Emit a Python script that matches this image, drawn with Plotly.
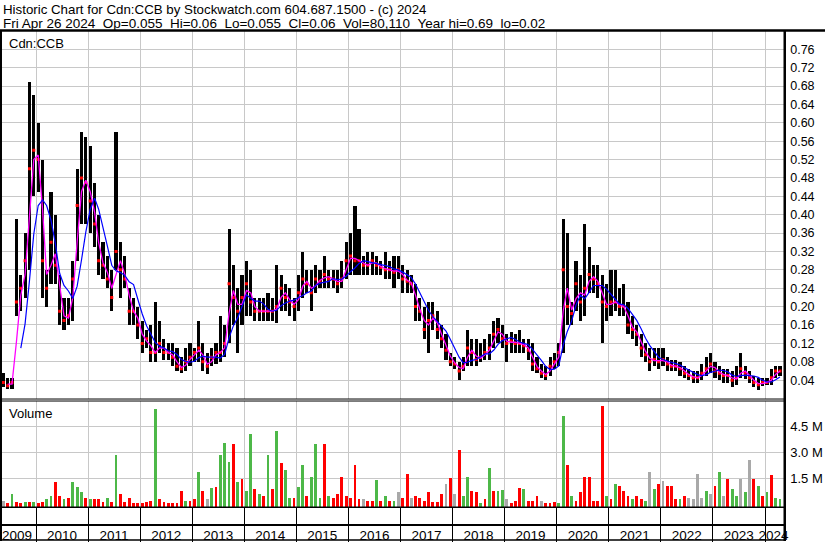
import plotly.graph_objects as go
import pandas as pd

W, H = 830, 543

# ---------------- data (monthly, May 2009 .. Apr 2024) ----------------
start_month = "2009-05-01"
n_months = 180

high = [
    0.055, 0.045, 0.045, 0.39, 0.27, 0.36, 0.69, 0.66,
    0.60, 0.52, 0.28, 0.45, 0.40, 0.27, 0.22, 0.22, 0.30, 0.50, 0.58, 0.57,
    0.55, 0.47, 0.40, 0.34, 0.31, 0.28, 0.58, 0.34, 0.31, 0.24, 0.22, 0.20,
    0.17, 0.15, 0.16, 0.21, 0.17, 0.13, 0.12, 0.12, 0.11, 0.09, 0.11, 0.12,
    0.11, 0.17, 0.12, 0.10, 0.11, 0.12, 0.18, 0.16, 0.37, 0.29, 0.24, 0.27,
    0.30, 0.28, 0.22, 0.22, 0.22, 0.23, 0.22, 0.29, 0.27, 0.25, 0.24, 0.22,
    0.27, 0.32, 0.28, 0.28, 0.29, 0.28, 0.31, 0.28, 0.28, 0.28, 0.30, 0.34,
    0.36, 0.42, 0.37, 0.31, 0.32, 0.32, 0.31, 0.30, 0.32, 0.30, 0.31, 0.31,
    0.29, 0.28, 0.27, 0.25, 0.22, 0.20, 0.21, 0.21, 0.19, 0.16, 0.14, 0.10,
    0.09, 0.08, 0.09, 0.15, 0.13, 0.13, 0.12, 0.13, 0.14, 0.17, 0.175, 0.16,
    0.14, 0.145, 0.14, 0.15, 0.13, 0.13, 0.12, 0.09, 0.075, 0.07, 0.09, 0.10,
    0.12, 0.39, 0.36, 0.21, 0.30, 0.27, 0.38, 0.33, 0.29, 0.29, 0.27, 0.25,
    0.28, 0.28, 0.24, 0.25, 0.21, 0.18, 0.16, 0.14, 0.12, 0.11, 0.11, 0.11,
    0.11, 0.09, 0.085, 0.085, 0.08, 0.07, 0.065, 0.06, 0.06, 0.075, 0.09, 0.10,
    0.08, 0.07, 0.065, 0.065, 0.06, 0.07, 0.10, 0.07, 0.06, 0.05, 0.045, 0.045,
    0.045, 0.065, 0.07, 0.07,
]

low = [
    0.025, 0.022, 0.022, 0.18, 0.19, 0.22, 0.28, 0.44,
    0.45, 0.22, 0.20, 0.25, 0.25, 0.16, 0.15, 0.16, 0.17, 0.30, 0.38, 0.38,
    0.36, 0.33, 0.27, 0.26, 0.24, 0.19, 0.28, 0.22, 0.24, 0.16, 0.16, 0.13,
    0.10, 0.11, 0.08, 0.08, 0.10, 0.085, 0.085, 0.07, 0.06, 0.055, 0.06, 0.07,
    0.08, 0.08, 0.06, 0.053, 0.07, 0.075, 0.08, 0.09, 0.12, 0.16, 0.10, 0.16,
    0.18, 0.18, 0.17, 0.17, 0.17, 0.17, 0.17, 0.165, 0.19, 0.19, 0.18, 0.17,
    0.19, 0.22, 0.23, 0.19, 0.23, 0.24, 0.24, 0.24, 0.24, 0.23, 0.24, 0.26,
    0.27, 0.27, 0.27, 0.27, 0.27, 0.27, 0.27, 0.27, 0.26, 0.26, 0.24, 0.26,
    0.23, 0.23, 0.23, 0.17, 0.17, 0.13, 0.10, 0.15, 0.13, 0.11, 0.085, 0.07,
    0.065, 0.04, 0.06, 0.07, 0.07, 0.07, 0.08, 0.085, 0.085, 0.11, 0.12, 0.11,
    0.08, 0.10, 0.10, 0.10, 0.10, 0.085, 0.06, 0.055, 0.045, 0.04, 0.05, 0.065,
    0.07, 0.10, 0.16, 0.16, 0.19, 0.17, 0.18, 0.23, 0.23, 0.22, 0.12, 0.17,
    0.18, 0.19, 0.18, 0.18, 0.14, 0.13, 0.115, 0.09, 0.08, 0.06, 0.07, 0.065,
    0.07, 0.06, 0.06, 0.06, 0.05, 0.045, 0.04, 0.035, 0.035, 0.04, 0.05, 0.055,
    0.045, 0.04, 0.035, 0.035, 0.025, 0.03, 0.045, 0.043, 0.035, 0.025, 0.018, 0.028,
    0.03, 0.03, 0.045, 0.05,
]

close = [
    0.035, 0.028, 0.035, 0.21, 0.24, 0.30, 0.50, 0.54,
    0.52, 0.30, 0.24, 0.34, 0.29, 0.19, 0.17, 0.18, 0.26, 0.42, 0.48, 0.47,
    0.43, 0.38, 0.30, 0.29, 0.26, 0.22, 0.32, 0.28, 0.26, 0.19, 0.19, 0.16,
    0.12, 0.13, 0.10, 0.10, 0.12, 0.10, 0.10, 0.09, 0.07, 0.065, 0.08, 0.09,
    0.10, 0.11, 0.08, 0.07, 0.09, 0.10, 0.10, 0.12, 0.25, 0.22, 0.19, 0.22,
    0.25, 0.21, 0.19, 0.19, 0.19, 0.19, 0.19, 0.20, 0.24, 0.22, 0.21, 0.20,
    0.23, 0.26, 0.25, 0.23, 0.26, 0.255, 0.27, 0.26, 0.26, 0.25, 0.26, 0.30,
    0.31, 0.30, 0.30, 0.29, 0.29, 0.30, 0.29, 0.285, 0.28, 0.28, 0.275, 0.28,
    0.26, 0.255, 0.25, 0.20, 0.19, 0.15, 0.17, 0.18, 0.15, 0.13, 0.105, 0.08,
    0.075, 0.06, 0.07, 0.11, 0.10, 0.085, 0.09, 0.10, 0.11, 0.14, 0.15, 0.13,
    0.12, 0.125, 0.12, 0.12, 0.115, 0.105, 0.075, 0.065, 0.055, 0.05, 0.07, 0.08,
    0.10, 0.28, 0.20, 0.185, 0.25, 0.21, 0.24, 0.27, 0.26, 0.25, 0.21, 0.20,
    0.21, 0.21, 0.20, 0.20, 0.16, 0.15, 0.14, 0.11, 0.095, 0.08, 0.085, 0.08,
    0.085, 0.075, 0.07, 0.07, 0.065, 0.055, 0.05, 0.045, 0.045, 0.055, 0.065, 0.075,
    0.06, 0.055, 0.05, 0.05, 0.04, 0.045, 0.065, 0.055, 0.045, 0.035, 0.03, 0.035,
    0.035, 0.045, 0.06, 0.06,
]

# peak daily volume within each month, in millions of shares
volume_m = [
    0.2, 0.1, 0.6, 0.15, 0.1, 0.15, 0.15, 0.12,
    0.1, 0.12, 0.3, 0.5, 1.3, 0.5, 0.3, 0.4, 1.3, 1.0, 0.7, 0.4,
    0.3, 0.3, 0.3, 0.15, 0.35, 0.15, 2.86, 0.6, 0.15, 0.35, 0.1, 0.1,
    0.1, 0.15, 0.2, 5.6, 0.3, 0.15, 0.1, 0.1, 0.1, 0.8, 0.2, 0.2,
    0.3, 1.9, 0.8, 0.3, 0.95, 1.0, 2.86, 3.6, 2.5, 3.5, 1.3, 1.5,
    0.8, 4.1, 0.9, 0.6, 0.5, 2.9, 0.9, 4.3, 2.4, 2.0, 0.4, 0.35,
    1.0, 2.3, 0.5, 1.6, 3.5, 0.4, 3.5, 0.5, 0.4, 0.6, 1.6, 0.5,
    0.4, 2.3, 0.3, 0.3, 0.2, 0.2, 1.4, 0.2, 0.5, 0.2, 0.2, 0.7,
    0.4, 1.8, 0.4, 0.5, 0.4, 0.2, 0.7, 0.15, 0.15, 0.6, 1.2, 1.55,
    0.6, 3.2, 0.5, 1.6, 0.8, 0.7, 0.1, 0.3, 2.1, 0.8, 0.8, 0.85,
    0.3, 0.1, 0.2, 0.95, 0.9, 0.2, 0.2, 0.5, 0.2, 0.1, 0.1, 0.15,
    0.1, 5.15, 2.3, 0.5, 0.2, 0.7, 1.6, 1.6, 0.2, 0.2, 5.77, 0.5,
    0.3, 1.2, 1.1, 0.8, 0.5, 0.3, 0.5, 0.3, 0.2, 1.9, 0.9, 1.2,
    1.35, 1.1, 1.05, 0.3, 0.3, 0.5, 0.4, 0.3, 1.76, 0.4, 0.8, 0.6,
    1.1, 1.9, 0.5, 1.5, 0.9, 0.5, 1.5, 0.7, 2.57, 1.5, 1.1, 0.5,
    0.7, 1.7, 0.4, 0.3,
]

# g = up day (green), r = down day (red), k = unchanged (grey)
volume_dir = (
    "krgrrgrg"
    "rrggrrgrgggr"
    "grrrgrgrrrrr"
    "rrrgrrrrrrgr"
    "rgrkgrgggrgr"
    "ggrgrgrgrggr"
    "ggrgggrgrrrr"
    "rrrkrrgrgrgk"
    "rrkrrrrrrrkr"
    "krggrrgrgrgg"
    "krrrgrrrkrrr"
    "ggrgrrrrrrrg"
    "rgrrrgrrgkgr"
    "krrrgrkkkkgk"
    "rgkrggkgkrgr"
    "grgg"
)

year_labels = ["2009", "2010", "2011", "2012", "2013", "2014", "2015", "2016",
               "2017", "2018", "2019", "2020", "2021", "2022", "2023", "2024"]
price_ticks = [0.04, 0.08, 0.12, 0.16, 0.20, 0.24, 0.28, 0.32, 0.36, 0.40,
               0.44, 0.48, 0.52, 0.56, 0.60, 0.64, 0.68, 0.72, 0.76]
volume_ticks = [1.5, 3.0, 4.5]

# ---------------- derived ----------------
months = pd.date_range(start_month, periods=n_months, freq="MS")
mid = months + pd.Timedelta(days=14)
close_s = pd.Series(close)
ma_fast = close_s.rolling(2).mean()
ma_slow = close_s.rolling(5).mean()
span = [h - l for h, l in zip(high, low)]
VBASE = 0.19
vol_h = [(v + VBASE) * 1e6 for v in volume_m]
cmap = {"g": "#4db848", "r": "#ff0000", "k": "#a9a9a9"}
vol_colors = [cmap[c] for c in volume_dir]

day_ms = 86400000
x_range = ["2009-05-06", "2024-05-15"]
year_bounds = [f"{y}-01-01" for y in range(2010, 2025)]
label_pos = ["2009-08-20"] + [f"{y}-07-01" for y in range(2010, 2024)] + ["2024-03-01"]


def px(X):
    return X / W


def py(Y):
    return (H - Y) / H


FONT = "Liberation Sans, Arial, sans-serif"
GRID = "#c8c8c8"

fig = go.Figure()

fig.add_trace(go.Bar(x=mid, y=span, base=low, width=22 * day_ms,
                     marker=dict(color="black", line=dict(width=0)),
                     xaxis="x", yaxis="y", showlegend=False))
fig.add_trace(go.Scatter(x=mid, y=close, mode="markers",
                         marker=dict(symbol="square", size=3, color="#ff0000"),
                         xaxis="x", yaxis="y", showlegend=False))
fig.add_trace(go.Scatter(x=mid, y=ma_fast, mode="lines",
                         line=dict(color="#ff00ff", width=1.3),
                         xaxis="x", yaxis="y", showlegend=False))
fig.add_trace(go.Scatter(x=mid, y=ma_slow, mode="lines",
                         line=dict(color="#0000ff", width=1.2),
                         xaxis="x", yaxis="y", showlegend=False))
fig.add_trace(go.Bar(x=mid, y=vol_h, base=-VBASE * 1e6, width=20 * day_ms,
                     marker=dict(color=vol_colors, line=dict(width=0)),
                     xaxis="x2", yaxis="y2", showlegend=False))

xdom = [px(2), px(789)]
common_x = dict(type="date", range=x_range, domain=xdom, showline=False,
                zeroline=False, showgrid=False, fixedrange=True)

fig.update_layout(
    width=W, height=H, margin=dict(l=0, r=0, t=0, b=0),
    paper_bgcolor="white", plot_bgcolor="white",
    barmode="overlay", bargap=0,
    font=dict(family=FONT, color="black", size=12),
    xaxis=dict(**common_x, anchor="y", showticklabels=False, ticks="",
               minor=dict(tickvals=year_bounds, showgrid=True, gridcolor=GRID,
                          gridwidth=1, ticks="")),
    yaxis=dict(domain=[py(400), py(31)], range=[0, 0.80], side="right",
               anchor="x", tickvals=price_ticks,
               ticktext=[f"{v:.2f}" for v in price_ticks],
               ticks="", ticklabelstandoff=5, showgrid=True, gridcolor=GRID,
               gridwidth=1, zeroline=False, showline=False,
               tickfont=dict(size=12.5)),
    xaxis2=dict(**common_x, anchor="y2", matches="x", tickvals=label_pos,
                ticktext=year_labels, ticks="", ticklabelstandoff=18,
                tickfont=dict(size=13.5),
                minor=dict(tickvals=year_bounds, showgrid=True, gridcolor=GRID,
                           gridwidth=1, ticks="outside", ticklen=34,
                           tickcolor="black", tickwidth=1)),
    yaxis2=dict(domain=[py(509), py(402)], range=[-VBASE * 1e6, 6.04e6],
                side="right", anchor="x2",
                tickvals=[v * 1e6 for v in volume_ticks],
                ticktext=[f"{v:.1f} M" for v in volume_ticks],
                ticks="", ticklabelstandoff=5, showgrid=True, gridcolor=GRID,
                gridwidth=1, zeroline=False, showline=False,
                tickfont=dict(size=13)),
)

# frame lines
lines = [
    (0, 30.5, W, 30.5, 2.5),
    (1, 30, 1, H, 2),
    (789.5, 30, 789.5, H, 2.5),
    (0, 400.5, 789, 400.5, 1),
    (0, 402.5, 789, 402.5, 1),
    (0, 509, 789, 509, 1.5),
    (0, 527, 789, 527, 2),
    (0, 542, 789, 542, 1.5),
]
for x0, y0, x1, y1, w in lines:
    fig.add_shape(type="line", xref="paper", yref="paper",
                  x0=px(x0), y0=py(y0), x1=px(x1), y1=py(y1),
                  line=dict(color="black", width=w), layer="above")

sp = "\u00a0\u00a0"
header1 = "Historic Chart for Cdn:CCB by Stockwatch.com 604.687.1500 - (c) 2024"
header2 = ("Fri Apr 26 2024" + sp + "Op=0.055" + sp + "Hi=0.06" + sp + "Lo=0.055" + sp +
           "Cl=0.06" + sp + "Vol=80,110" + sp + "Year hi=0.69" + sp + "lo=0.02")
texts = [
    (header1, 1, 0, 13.3),
    (header2, 1, 14, 13.5),
    ("Cdn:CCB", 7, 34, 13),
    ("Volume", 7, 405, 13),
]
for t, X, Y, s in texts:
    fig.add_annotation(text=t, xref="paper", yref="paper", x=px(X), y=py(Y),
                       xanchor="left", yanchor="top", showarrow=False,
                       font=dict(size=s, family=FONT, color="black"))

fig.write_html("out.html", config={"displayModeBar": False},
               post_script="document.body.style.margin='0';document.body.style.padding='0';")
